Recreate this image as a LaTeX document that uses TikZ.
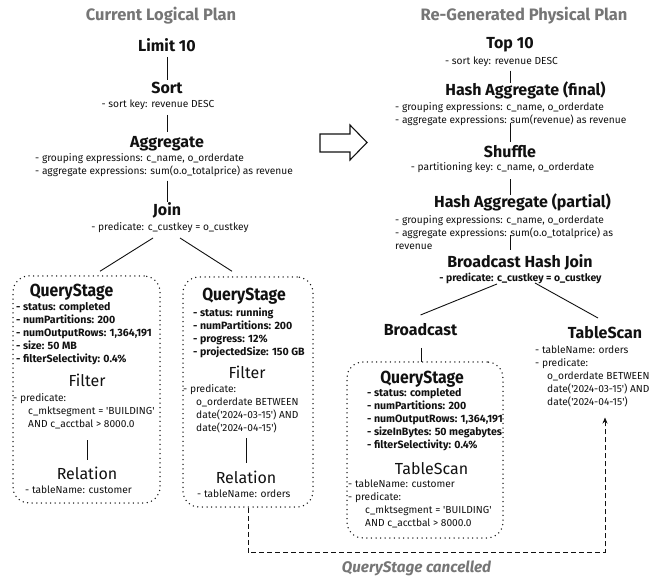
\documentclass[tikz,border=0pt]{standalone}
\usepackage{fontspec}
\usepackage{graphicx}
\setmainfont{Fira Sans}
\usetikzlibrary{calc,arrows.meta}
\definecolor{ttl}{HTML}{767676}
\definecolor{ink}{HTML}{111111}
\newcommand{\qstitle}{\scalebox{0.9}[1]{QueryStage}}
\newcommand{\sq}{\textquotesingle}
\tikzset{
  head/.style={font=\bfseries\fontsize{16}{18}\selectfont, inner sep=0pt, anchor=base, text=ink},
  qs/.style={font=\bfseries\fontsize{17.5}{18}\selectfont, inner sep=0pt, anchor=base, text=ink},
  opname/.style={font=\fontsize{16}{18}\selectfont, inner sep=0pt, anchor=base, text=ink},
  desc/.style={font=\fontsize{10.2}{13}\selectfont, inner sep=0pt, anchor=north west, align=left, text=ink},
  bdesc/.style={font=\bfseries\fontsize{10.6}{13}\selectfont, inner sep=0pt, anchor=north west, align=left, text=ink},
  cdesc/.style={font=\fontsize{10.2}{13}\selectfont, inner sep=0pt, anchor=base, text=ink},
  cbdesc/.style={font=\bfseries\fontsize{10.4}{13}\selectfont, inner sep=0pt, anchor=base, text=ink},
  plantitle/.style={font=\bfseries\fontsize{16.5}{18}\selectfont, text=ttl, inner sep=0pt, anchor=base},
  link/.style={line width=0.9pt, draw=ink},
  qbox/.style={draw=ink, rounded corners=16pt, line width=1.5pt, dash pattern=on 0pt off 4.6pt, line cap=round, inner sep=0pt},
  cancel/.style={draw=ink, line width=0.9pt, dash pattern=on 5pt off 3pt, -{Stealth[length=6pt,width=5pt]}},
}
\begin{document}
\begin{tikzpicture}[x=1pt,y=-1pt]
\useasboundingbox (0,0) rectangle (667,577);
\fill[white] (0,0) rectangle (667,577);

% ---------- titles
\node[plantitle] (tl) at (161,20.5) {Current Logical Plan};
\node[plantitle] (tr) at (524,20.5) {Re-Generated Physical Plan};

% ---------- logical plan
\node[head] (limit) at (167,52) {Limit 10};
\node[head] (sort) at (167,94) {Sort};
\node[cdesc] (sortd) at (158,107.5) {- sort key: revenue DESC};
\node[head] (agg) at (167,148) {Aggregate};
\node[desc] (aggd) at (35,153) {- grouping expressions: c\_name, o\_orderdate\\- aggregate expressions: sum(o.o\_totalprice) as revenue};
\node[head] (join) at (167,216) {Join};
\node[cdesc] (joind) at (170,230.5) {- predicate: c\_custkey = o\_custkey};

\draw[link] ($(limit.base)+(0,5)$) -- ($(sort.base)+(0,-14)$);
\draw[link] ($(agg.base |- sortd.base)+(0,7.5)$) -- ($(agg.base)+(0,-16)$);
\draw[link] ($(join.base |- aggd.south)+(0,4)$) -- ($(join.base)+(0,-14)$);

% left query stage
\node[qbox, minimum width=147pt, minimum height=227pt] (box1) at (86.5,389.5) {};
\node[qs] (qs1) at (71.5,297) {\qstitle};
\node[bdesc] (qs1d) at (16,302) {- status: completed\\- numPartitions: 200\\- numOutputRows: 1,364,191\\- size: 50 MB\\- filterSelectivity: 0.4\%};
\node[opname] (filt1) at (87,387) {Filter};
\node[desc] (filt1d) at (13,393.5) {- predicate:\\\hspace*{15pt}c\_mktsegment = \sq BUILDING\sq\\\hspace*{15pt}AND c\_acctbal > 8000.0};
\node[opname] (rel1) at (87,479.5) {Relation};
\node[desc] (rel1d) at (25,486) {- tableName: customer};
\draw[link] ($(rel1.base)+(0,-39.5)$) -- ($(rel1.base)+(0,-19.5)$);

% middle query stage
\node[qbox, minimum width=130pt, minimum height=230pt] (box2) at (248,392) {};
\node[qs] (qs2) at (244,301) {\qstitle};
\node[bdesc] (qs2d) at (193,307.5) {- status: running\\- numPartitions: 200\\- progress: 12\%\\- projectedSize: 150 GB};
\node[opname] (filt2) at (247,378) {Filter};
\node[desc] (filt2d) at (183,384.5) {- predicate:\\\hspace*{13pt}o\_orderdate BETWEEN\\\hspace*{13pt}date(\sq 2024-03-15\sq) AND\\\hspace*{13pt}date(\sq 2024-04-15\sq)};
\node[opname] (rel2) at (246,483) {Relation};
\node[desc] (rel2d) at (197,489.5) {- tableName: orders};
\draw[link] ($(rel2.base)+(0,-45)$) -- ($(rel2.base)+(0,-20)$);

\draw[link] ($(joind.base)+(-17,7.5)$) -- ($(box1.north)+(13.5,-4)$);
\draw[link] ($(joind.base)+(10,7.5)$) -- ($(box2.north)+(-16,-5)$);

% ---------- big arrow
\draw[line width=1.1pt, draw=ink, line join=miter] (320,134) -- (350,134) -- (350,125) -- (367,142.5) -- (350,160) -- (350,152) -- (320,152) -- cycle;

% ---------- physical plan
\node[head] (topn) at (510,49) {Top 10};
\node[cdesc] (topnd) at (501.5,64.5) {- sort key: revenue DESC};
\node[head] (haf) at (525.5,95.6) {Hash Aggregate (final)};
\node[desc] (hafd) at (395,102.5) {- grouping expressions: c\_name, o\_orderdate\\- aggregate expressions: sum(revenue) as revenue};
\node[head] (shuf) at (510,157.3) {Shuffle};
\node[cdesc] (shufd) at (502.5,171) {- partitioning key: c\_name, o\_orderdate};
\node[head] (hap) at (522.5,208) {Hash Aggregate (partial)};
\node[desc] (hapd) at (395,215) {- grouping expressions: c\_name, o\_orderdate\\- aggregate expressions: sum(o.o\_totalprice) as\\revenue};
\node[head] (bhj) at (520,268) {Broadcast Hash Join};
\node[cbdesc] (bhjd) at (520.5,282) {- predicate: c\_custkey = o\_custkey};

\draw[link] ($(topn.base |- topnd.base)+(0,6.2)$) -- ($(topn.base |- haf.base)+(0,-13)$);
\draw[link] ($(topn.base |- hafd.south)+(0,-3)$) -- ($(topn.base |- shuf.base)+(0,-15.6)$);
\draw[link] ($(topn.base |- shufd.base)+(0,8.3)$) -- ($(topn.base |- hap.base)+(0,-13)$);
\draw[link] ($(topn.base |- hapd.north)+(0,20)$) -- ($(topn.base |- bhj.base)+(0,-18)$);

\node[head] (bcast) at (420.5,335.6) {Broadcast};
\node[head] (tsr) at (605,339) {TableScan};
\node[desc] (tsrd) at (535,346) {- tableName: orders\\- predicate:\\\hspace*{12pt}o\_orderdate BETWEEN\\\hspace*{12pt}date(\sq 2024-03-15\sq) AND\\\hspace*{12pt}date(\sq 2024-04-15\sq)};

\draw[link] ($(bhjd.base)+(-23.5,2)$) -- ($(bcast.base)+(0,-20.6)$);
\draw[link] ($(bhjd.base)+(14.5,1)$) -- ($(tsr.base)+(-7,-21)$);

% right query stage
\node[qbox, minimum width=156pt, minimum height=176pt] (box3) at (425,450) {};
\draw[link] ($(bcast.base)+(0.5,12.4)$) -- ($(bcast.base |- box3.north)+(0.5,1)$);
\node[qs] (qs3) at (422,383.6) {\qstitle};
\node[bdesc] (qs3d) at (367,388) {- status: completed\\- numPartitions: 200\\- numOutputRows: 1,364,191\\- sizeInBytes: 50 megabytes\\- filterSelectivity: 0.4\%};
\node[opname] (ts3) at (431.5,474.6) {TableScan};
\node[desc] (ts3d) at (348,480) {- tableName: customer\\- predicate:\\\hspace*{17pt}c\_mktsegment = \sq BUILDING\sq\\\hspace*{17pt}AND c\_acctbal > 8000.0};

% ---------- cancelled stage
\coordinate (cbend) at (605,552.5);
\draw[cancel] (box2.south) |- (cbend) -- ($(cbend |- tsrd.south)+(0,10)$);
\node[font=\bfseries\itshape\fontsize{15.3}{18}\selectfont, text=ttl, inner sep=0pt, anchor=base] (cnl) at (416.5,572) {QueryStage cancelled};
\end{tikzpicture}
\end{document}
